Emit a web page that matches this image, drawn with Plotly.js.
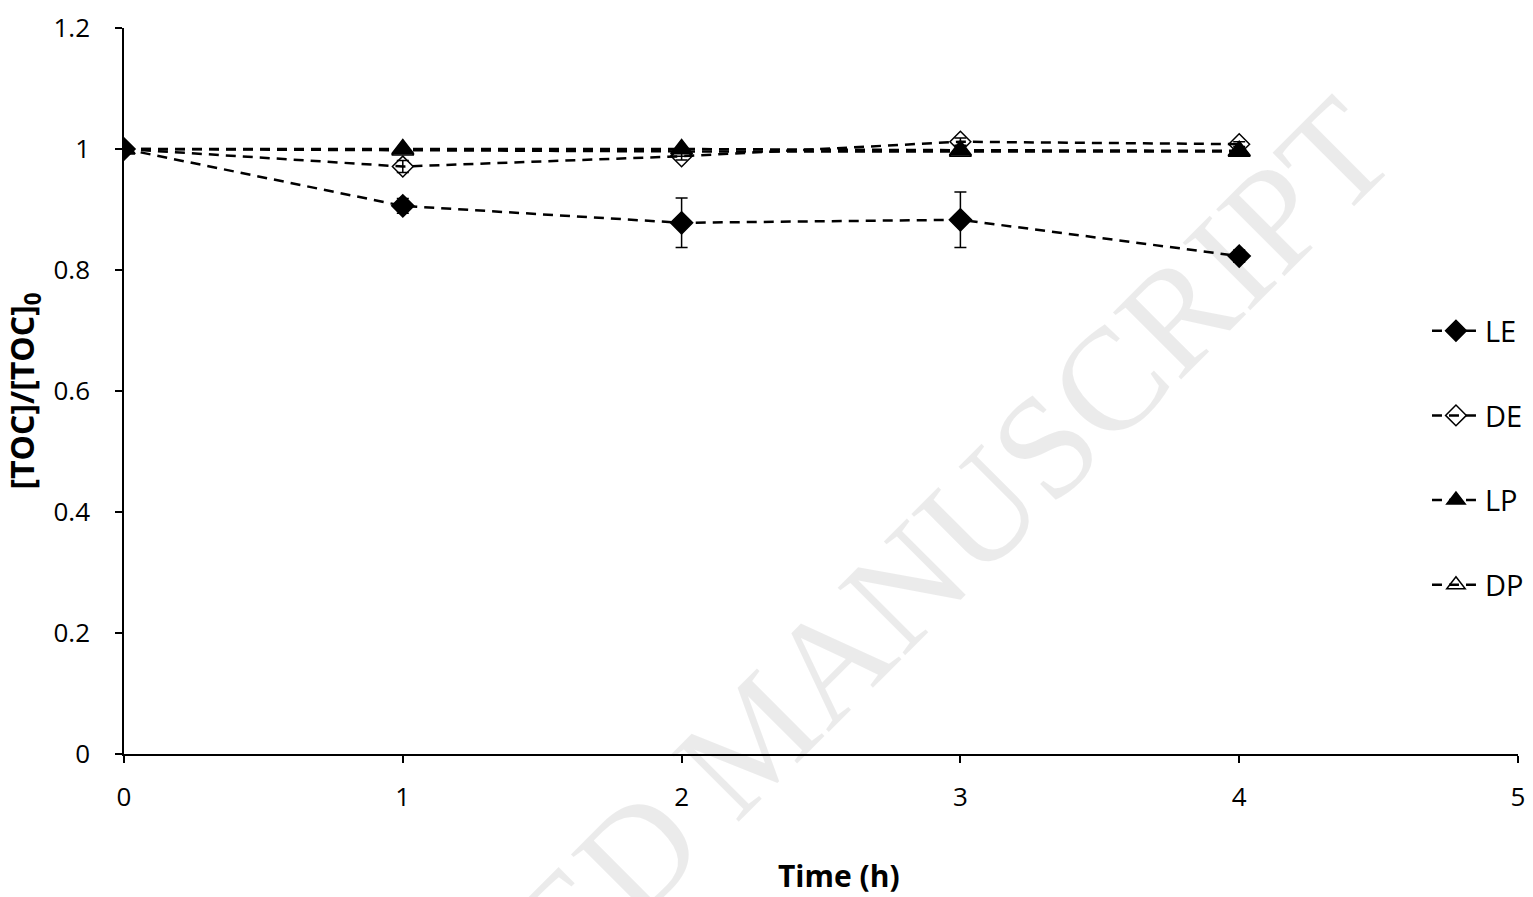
<!DOCTYPE html>
<html><head><meta charset="utf-8">
<script src="https://cdn.plot.ly/plotly-3.0.1.min.js"></script>
<style>html,body{margin:0;padding:0;background:#fff}#chart{width:1533px;height:897px}</style>
</head><body><div id="chart"></div>
<script>
const time = [0, 1, 2, 3, 4];
const seriesNames = ["LE", "DE", "LP", "DP"];
const LE = [1.0, 0.906, 0.878, 0.883, 0.823];
const LE_err = [0.0, 0.012, 0.041, 0.046, 0.010];
const DE = [1.0, 0.971, 0.988, 1.012, 1.008];
const DE_err = [0.0, 0.010, 0.006, 0.006, 0.004];
const LP = [1.0, 1.0, 1.0, 0.998, 0.997];
const LP_err = [0.0, 0.002, 0.002, 0.002, 0.002];
const DP = [1.0, 0.998, 0.996, 0.996, 0.996];
const DP_err = [0.0, 0.002, 0.002, 0.002, 0.002];
const xTicks = [0, 1, 2, 3, 4, 5];
const yTicks = [0, 0.2, 0.4, 0.6, 0.8, 1.0, 1.2];
const yTickText = ["0", "0.2", "0.4", "0.6", "0.8", "1", "1.2"];
const xTitle = "Time (h)";
const watermark = "ACCEPTED MANUSCRIPT";

const font = "Open Sans, Noto Sans, sans-serif";
function mk(name, y, err, symbol, size, rank) {
  return {
    x: time, y: y, name: name, type: "scatter", mode: "lines+markers",
    legendgroup: "g" + rank, legendrank: rank,
    line: {color: "#000", width: 2.5, dash: "10px,7px"},
    marker: {symbol: symbol, size: size, color: "#000", line: {color: "#000", width: 1.5}},
    error_y: {type: "data", array: err, visible: true, color: "#000", thickness: 1.5, width: 6}
  };
}
const data = [
  mk(seriesNames[3], DP, DP_err, "triangle-up-open", 19, 4),
  mk(seriesNames[2], LP, LP_err, "triangle-up", 19, 3),
  mk(seriesNames[1], DE, DE_err, "diamond-open", 16, 2),
  mk(seriesNames[0], LE, LE_err, "diamond", 17, 1)
];
const layout = {
  width: 1533, height: 897,
  margin: {l: 124, r: 15, t: 28, b: 143, autoexpand: false},
  paper_bgcolor: "#fff", plot_bgcolor: "#fff",
  font: {family: font, color: "#000"},
  showlegend: true,
  legend: {x: 0.9347, xanchor: "left", y: 0.618, yanchor: "top", traceorder: "grouped",
           tracegroupgap: 44, font: {size: 29, family: font}, bgcolor: "rgba(0,0,0,0)", itemwidth: 48},
  xaxis: {range: [0, 5], tickvals: xTicks, ticks: "outside", ticklen: 7, tickwidth: 1.5, tickcolor: "#000",
          showline: true, linecolor: "#000", linewidth: 1.5, showgrid: false, zeroline: false,
          tickfont: {size: 26, family: font}, ticklabelstandoff: 12},
  yaxis: {range: [0, 1.2], tickvals: yTicks, ticktext: yTickText, ticks: "outside", ticklen: 7, tickwidth: 1.5, tickcolor: "#000",
          showline: true, linecolor: "#000", linewidth: 1.5, showgrid: false, zeroline: false,
          tickfont: {size: 26, family: font}, ticklabelstandoff: 20,
          title: {text: "<b>[TOC]/[TOC]<sub>0</sub></b>", font: {size: 32, family: font}, standoff: 12}},
  annotations: [
    {text: "<b>" + xTitle + "</b>", xref: "paper", yref: "paper", x: 0.513, y: -0.167,
     xanchor: "center", yanchor: "middle", showarrow: false, font: {size: 30, family: font, color: "#000"}},
    {text: watermark, xref: "paper", yref: "paper", x: 0.452, y: 0.024, xanchor: "center", yanchor: "middle",
     showarrow: false, textangle: -45, font: {size: 146, family: "Liberation Serif, serif", color: "rgba(0,0,0,0.08)"}}
  ]
};
Plotly.newPlot("chart", data, layout, {displayModeBar: false});
</script></body></html>
